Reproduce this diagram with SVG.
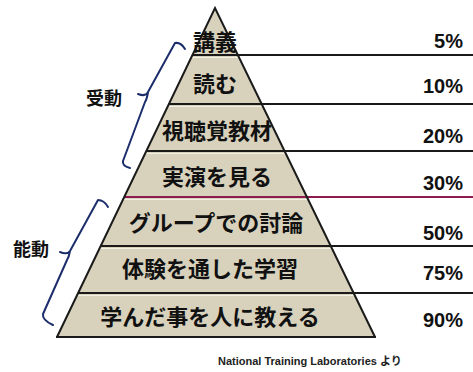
<svg xmlns="http://www.w3.org/2000/svg" width="473" height="372" viewBox="0 0 473 372">
<style>
.jp{font-family:"Noto Sans CJK JP","Noto Sans CJK SC",sans-serif;font-weight:bold;font-size:22px;fill:#111;text-anchor:middle;dominant-baseline:central}
.lbl{font-family:"Noto Sans CJK JP","Noto Sans CJK SC",sans-serif;font-weight:bold;font-size:18px;fill:#111;text-anchor:middle;dominant-baseline:central}
.pct{font-family:"Liberation Sans",Arial,sans-serif;font-weight:bold;font-size:20px;fill:#111;text-anchor:end}
.ln{stroke:#1a1a1a;stroke-width:2;fill:none}
.hl{stroke:#f2efe4;stroke-width:1.2;fill:none}
.br{stroke:#1c2d6b;stroke-width:2;fill:none;stroke-linecap:round;stroke-linejoin:round}
</style>
<rect width="473" height="372" fill="#ffffff"/>
<g id="pyramid">
<polygon points="215,8 57,337 375,337" fill="#d8d2bc"/>
</g>
<g id="connectors">
<line class="hl" x1="191" y1="57.5" x2="238" y2="57.5"/>
<line class="hl" x1="168" y1="106.5" x2="262" y2="106.5"/>
<line class="hl" x1="145" y1="153.5" x2="285" y2="153.5"/>
<line class="hl" x1="123" y1="199.5" x2="307" y2="199.5"/>
<line class="hl" x1="100" y1="248.5" x2="331" y2="248.5"/>
<line class="hl" x1="77" y1="295.5" x2="354" y2="295.5"/>
<line class="ln" x1="192.4" y1="55" x2="473" y2="55"/>
<line class="ln" x1="168.9" y1="104" x2="473" y2="104"/>
<line class="ln" x1="146.3" y1="151" x2="473" y2="151"/>
<line x1="124.2" y1="197" x2="473" y2="197" stroke="#8e1b4d" stroke-width="2.2"/>
<line class="ln" x1="100.7" y1="246" x2="473" y2="246"/>
<line class="ln" x1="78.1" y1="293" x2="473" y2="293"/>
<polyline class="ln" points="57,337 215,8 375,337"/>
<line class="ln" x1="56" y1="337" x2="376" y2="337"/>
<path class="br" d="M185,49 Q181,42 175,43 L148,92 Q146,97 138,94 M148,92 Q147,99 145,102 L123,161 Q122,166 130,168"/>
<path class="br" d="M108,207 Q104,200 98,200 L70,251 Q67,255 60,252 M70,251 Q69,257 67,260 L43,314 Q42,320 53,325"/>
</g>
<g id="n1"><text class="jp" x="215" y="40">講義</text><text class="pct" x="463" y="48">5%</text></g>
<g id="n2"><text class="jp" x="215" y="82">読む</text><text class="pct" x="463" y="93">10%</text></g>
<g id="n3"><text class="jp" x="217" y="129">視聴覚教材</text><text class="pct" x="463" y="143">20%</text></g>
<g id="n4"><text class="jp" x="217" y="175">実演を見る</text><text class="pct" x="463" y="190">30%</text></g>
<g id="n5"><text class="jp" x="216" y="221">グループでの討論</text><text class="pct" x="463" y="240">50%</text></g>
<g id="n6"><text class="jp" x="210" y="267">体験を通した学習</text><text class="pct" x="463" y="280">75%</text></g>
<g id="n7"><text class="jp" x="210" y="315">学んだ事を人に教える</text><text class="pct" x="463" y="327">90%</text></g>
<g id="passive"><text class="lbl" x="104" y="97">受動</text></g>
<g id="active"><text class="lbl" x="31" y="248">能動</text></g>
<g id="source"><text x="218" y="365" font-family="'Liberation Sans','Noto Sans CJK JP',sans-serif" font-size="11" font-weight="bold" fill="#222">National Training Laboratories より</text></g>
</svg>
